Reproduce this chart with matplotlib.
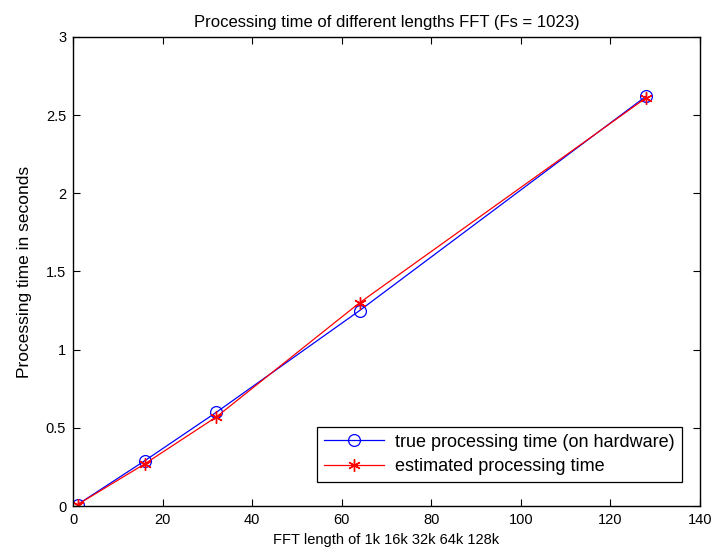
import matplotlib
matplotlib.use('Agg')
import matplotlib.pyplot as plt

plt.rcParams['font.family'] = ['Liberation Sans', 'DejaVu Sans']

# FFT length in k
fft_len = [1, 16, 32, 64, 128]
true_time = [0.01, 0.29, 0.60, 1.25, 2.62]
est_time = [0.01, 0.27, 0.57, 1.30, 2.61]

fig = plt.figure(figsize=(7.17, 5.58), dpi=100)
ax = fig.add_axes([0.102, 0.093, 0.874, 0.841])

ax.plot(fft_len, true_time, color='blue', lw=0.9, marker='o', ms=8.5,
        mfc='none', mec='blue', mew=0.9, label='true processing time (on hardware)')
ax.plot(fft_len, est_time, color='red', lw=0.9, marker=(6, 2, 0), ms=9,
        mfc='none', mec='red', mew=1.0, label='estimated processing time')

ax.set_xlim(0, 140)
ax.set_ylim(0, 3)
ax.set_xticks(range(0, 141, 20))
ax.set_yticks([0, 0.5, 1, 1.5, 2, 2.5, 3])
ax.set_yticklabels(['0', '0.5', '1', '1.5', '2', '2.5', '3'])
ax.tick_params(direction='in', top=True, right=True, labelsize=10.5, length=5, width=0.8, pad=5)
for s in ax.spines.values():
    s.set_linewidth(1.0)

ax.set_title('Processing time of different lengths FFT (Fs = 1023)', fontsize=12, pad=7)
ax.set_xlabel('FFT length of 1k 16k 32k 64k 128k', fontsize=10.5, labelpad=4)
ax.set_ylabel('Processing time in seconds', fontsize=12.5, labelpad=10)

leg = ax.legend(loc='lower right', bbox_to_anchor=(0.971, 0.051), borderaxespad=0,
                fontsize=13, fancybox=False, framealpha=1, edgecolor='black',
                handlelength=3.3, borderpad=0.4, labelspacing=0.4, handletextpad=0.6)
leg.get_frame().set_linewidth(0.9)

fig.savefig('out.png', dpi=100)
